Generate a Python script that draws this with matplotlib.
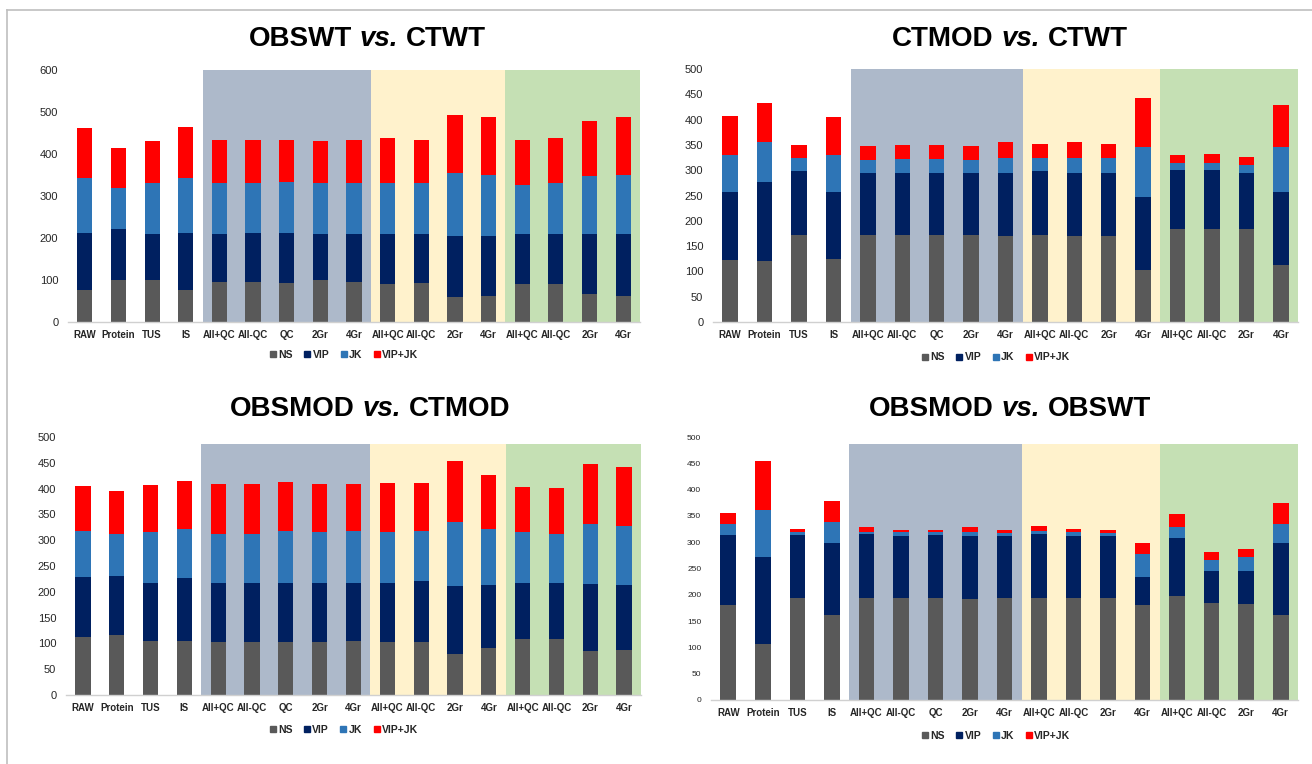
import matplotlib
matplotlib.use("Agg")
import matplotlib.pyplot as plt
from matplotlib.lines import Line2D
import numpy as np

categories = ['RAW', 'Protein', 'TUS', 'IS', 'All+QC', 'All-QC', 'QC', '2Gr', '4Gr',
              'All+QC', 'All-QC', '2Gr', '4Gr', 'All+QC', 'All-QC', '2Gr', '4Gr']
series_names = ['NS', 'VIP', 'JK', 'VIP+JK']

# Panel 1: OBSWT vs. CTWT
p1_ns    = [77, 101, 99, 77, 96, 96, 94, 99, 96, 90, 93, 60, 62, 90, 90, 66, 62]
p1_vip   = [134, 120, 110, 134, 113, 115, 117, 110, 113, 119, 116, 145, 143, 119, 119, 143, 147]
p1_jk    = [131, 98, 121, 131, 121, 119, 122, 121, 121, 121, 121, 149, 146, 117, 121, 139, 142]
p1_vipjk = [121, 95, 101, 123, 104, 104, 101, 101, 104, 108, 104, 139, 136, 108, 108, 131, 136]

# Panel 2: CTMOD vs. CTWT
p2_ns    = [122, 120, 172, 124, 172, 172, 172, 172, 170, 172, 170, 170, 102, 183, 183, 183, 113]
p2_vip   = [135, 157, 126, 133, 122, 123, 122, 122, 125, 126, 124, 125, 146, 117, 117, 112, 144]
p2_jk    = [74, 79, 27, 74, 26, 27, 28, 26, 30, 27, 31, 30, 97, 15, 15, 15, 88]
p2_vipjk = [77, 77, 24, 75, 27, 27, 27, 27, 30, 27, 30, 27, 98, 15, 17, 17, 84]

# Panel 3: OBSMOD vs. CTMOD
p3_ns    = [112, 116, 105, 105, 102, 102, 102, 102, 104, 102, 102, 79, 92, 109, 109, 85, 87]
p3_vip   = [117, 115, 112, 122, 115, 115, 116, 115, 114, 115, 118, 132, 122, 109, 109, 131, 127]
p3_jk    = [88, 81, 99, 94, 95, 95, 99, 98, 99, 99, 97, 124, 107, 98, 94, 116, 113]
p3_vipjk = [89, 84, 91, 93, 97, 97, 95, 94, 92, 95, 94, 119, 106, 87, 89, 115, 114]

# Panel 4: OBSMOD vs. OBSWT
p4_ns    = [180, 107, 194, 161, 194, 194, 194, 192, 194, 194, 194, 194, 180, 197, 185, 183, 161]
p4_vip   = [133, 165, 119, 137, 121, 117, 119, 119, 117, 121, 117, 117, 54, 111, 61, 63, 137]
p4_jk    = [21, 90, 6, 41, 5, 9, 7, 9, 6, 7, 9, 6, 44, 21, 20, 26, 37]
p4_vipjk = [21, 92, 7, 39, 9, 4, 4, 9, 7, 8, 5, 6, 20, 25, 15, 15, 39]

titles_a = ['OBSWT', 'CTMOD', 'OBSMOD', 'OBSMOD']
titles_b = ['CTWT', 'CTWT', 'CTMOD', 'OBSWT']

colors = ['#595959', '#002060', '#2e75b6', '#ff0000']
shade_colors = ['#adb9ca', '#fff2cc', '#c5e0b4']
shade_spans = [(3.5, 8.5), (8.5, 12.5), (12.5, 16.5)]

REG = ['Liberation Sans', 'DejaVu Sans']

fig = plt.figure(figsize=(13.12, 7.64), dpi=100)
W, H = 1312, 764

def px_axes(left, right, top, bottom):
    return [left / W, 1 - bottom / H, (right - left) / W, (bottom - top) / H]

panels = [
    dict(data=[p1_ns, p1_vip, p1_jk, p1_vipjk], rect=px_axes(68, 640, 70, 322), ymax=600, step=100,
         shade_top=1.0, ytick_size=8, title_xy=(367, 39), leg=(0.483, -0.13)),
    dict(data=[p2_ns, p2_vip, p2_jk, p2_vipjk], rect=px_axes(713, 1298, 69, 322), ymax=500, step=50,
         shade_top=1.0, ytick_size=8, title_xy=(1010, 39), leg=(0.484, -0.14)),
    dict(data=[p3_ns, p3_vip, p3_jk, p3_vipjk], rect=px_axes(66, 641, 437, 695), ymax=500, step=50,
         shade_top=0.972, ytick_size=8, title_xy=(370, 409), leg=(0.483, -0.135)),
    dict(data=[p4_ns, p4_vip, p4_jk, p4_vipjk], rect=px_axes(711, 1298, 437, 700), ymax=500, step=50,
         shade_top=0.975, ytick_size=6, title_xy=(1010, 409), leg=(0.486, -0.135)),
]

renderer = fig.canvas.get_renderer()
TITLE_SIZE = 20

def composite_title(xc, yc, a, b):
    parts = [(a, 'normal'), ('vs.', 'italic'), (b, 'normal')]
    texts = [fig.text(0, 0, s, fontsize=TITLE_SIZE, fontweight='bold', fontstyle=st,
                      family=REG, ha='left', va='center', color='black') for s, st in parts]
    widths = [t.get_window_extent(renderer).width for t in texts]
    gap = 0.278 * TITLE_SIZE * 100 / 72
    total = sum(widths) + 2 * gap
    xpos = xc - total / 2
    for t, w in zip(texts, widths):
        t.set_position((xpos / W, 1 - yc / H))
        xpos += w + gap

x = np.arange(len(categories))
for i, p in enumerate(panels):
    ax = fig.add_axes(p['rect'])
    for (a, b), c in zip(shade_spans, shade_colors):
        ax.axvspan(a, b, ymin=0, ymax=p['shade_top'], color=c, zorder=0, lw=0)
    bottom = np.zeros(len(categories))
    handles = []
    for vals, col, name in zip(p['data'], colors, series_names):
        v = np.array(vals, dtype=float)
        ax.bar(x, v, bottom=bottom, width=0.45, color=col, zorder=2, label=name)
        bottom += v
        handles.append(Line2D([], [], marker='s', linestyle='none', markersize=4.5,
                              markerfacecolor=col, markeredgecolor=col, label=name))
    ax.set_xlim(-0.5, len(categories) - 0.5)
    ax.set_ylim(0, p['ymax'])
    ax.set_yticks(np.arange(0, p['ymax'] + 1, p['step']))
    ax.set_xticks(x)
    ax.set_xticklabels(categories, fontfamily=REG, fontweight='bold', fontsize=7, color='#262626')
    for lab in ax.get_yticklabels():
        lab.set_fontfamily(REG)
        lab.set_fontsize(p['ytick_size'])
        lab.set_color('#262626')
    ax.tick_params(axis='both', length=0)
    ax.tick_params(axis='y', pad=7)
    ax.tick_params(axis='x', pad=6)
    for s in ['top', 'right', 'left']:
        ax.spines[s].set_visible(False)
    ax.spines['bottom'].set_color('#d0d0d0')
    ax.spines['bottom'].set_linewidth(1.0)
    ax.set_facecolor('none')
    leg = ax.legend(handles=handles, loc='center', bbox_to_anchor=p['leg'], ncol=4, frameon=False,
                    prop=dict(family=REG, weight='bold', size=7.5), handlelength=0.6,
                    handletextpad=0.2, columnspacing=1.1, borderpad=0)
    for t in leg.get_texts():
        t.set_color('#262626')
    composite_title(p['title_xy'][0], p['title_xy'][1], titles_a[i], titles_b[i])

# frame lines (top and left)
fig.add_artist(Line2D([7 / W, 1.0], [1 - 10 / H, 1 - 10 / H], color='#bfbfbf', lw=1.2))
fig.add_artist(Line2D([7 / W, 7 / W], [0, 1 - 10 / H], color='#bfbfbf', lw=1.2))

fig.savefig('out.png', dpi=100)
